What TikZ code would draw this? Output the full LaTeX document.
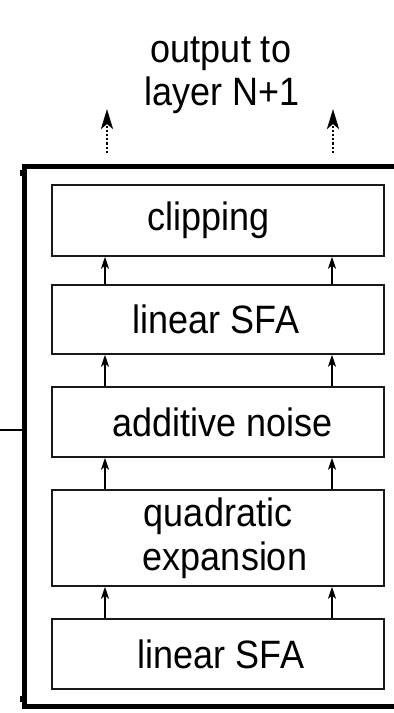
\documentclass[tikz,border=0pt]{standalone}
\usepackage{fontspec}
\setmainfont{Liberation Sans}
\usetikzlibrary{arrows.meta}
\newcommand{\tallt}[2]{\hspace*{#1}\scalebox{1}[1.1]{#2}\hspace*{-#1}}
\begin{document}
\begin{tikzpicture}[x=1pt,y=-1pt,
  every node/.style={font=\fontsize{36}{44}\selectfont, inner sep=0pt},
  stagebox/.style={draw=black!90, line width=1.5pt, minimum width=332pt, align=center},
  flowarrow/.style={line width=1.5pt, -{Stealth[length=12pt,width=8pt,inset=3pt]}},
  outarrow/.style={line width=2.6pt, dash pattern=on 2.2pt off 2pt, -{Stealth[length=20pt,width=12pt,inset=5pt]}},
  frame/.style={line width=5pt}]
\useasboundingbox (0,0) rectangle (394,713);
\clip (0,0) rectangle (394,713);
% text
\node[anchor=base] (t1) at (221,62) {\tallt{0pt}{output to}};
\node[anchor=base] (t2) at (222,105) {\tallt{0pt}{layer N+1}};
% outer frame
\draw[frame] (410,166.5) -- (24.5,166.5) -- (24.5,706.5) -- (410,706.5);
\fill (19.5,170) rectangle (23,175.5);
\fill (19.5,696) rectangle (23,702);
% input line
\coordinate (in0) at (0,430);
\coordinate (in1) at (22,430);
\draw[line width=1.5pt] (in0) -- (in1);
% boxes
\node[stagebox, minimum height=71pt] (b1) at (218,220.5) {\tallt{-9pt}{clipping}};
\node[stagebox, minimum height=69pt] (b2) at (218,319.5) {\tallt{-2pt}{linear SFA}};
\node[stagebox, minimum height=70pt] (b3) at (218,422) {\tallt{5pt}{additive noise}};
\node[stagebox, minimum height=96pt] (b4) at (218,538) {\tallt{0pt}{quadratic}\\\tallt{7pt}{expansion}};
\node[stagebox, minimum height=70pt] (b5) at (218,654) {\tallt{3pt}{linear SFA}};
% arrow columns
\coordinate (xl) at (105,0);
\coordinate (xr) at (332,0);
\foreach \lo/\hi in {b5/b4,b4/b3,b3/b2,b2/b1}{
  \draw[flowarrow] (\lo.north -| xl) -- (\hi.south -| xl);
  \draw[flowarrow] (\lo.north -| xr) -- (\hi.south -| xr);
}
% output arrows
\coordinate (ol0) at (107,153);
\coordinate (ol1) at (107,109);
\coordinate (or0) at (333,153);
\coordinate (or1) at (333,109);
\draw[outarrow] (ol0) -- (ol1);
\draw[outarrow] (or0) -- (or1);
\end{tikzpicture}
\end{document}
